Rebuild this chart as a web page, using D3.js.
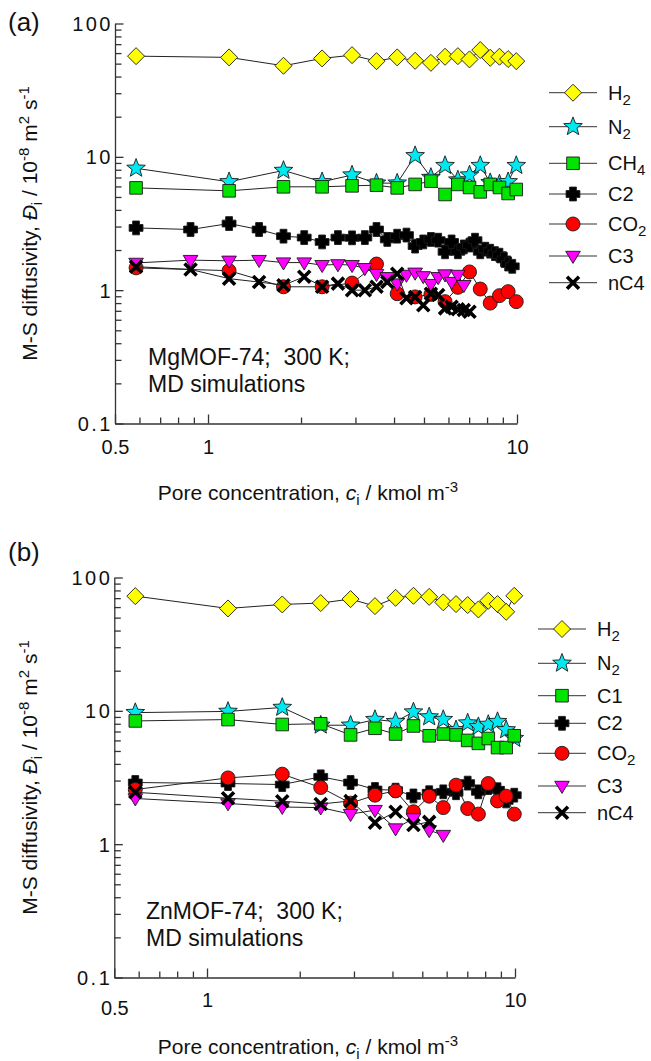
<!DOCTYPE html>
<html>
<head>
<meta charset="utf-8">
<title>M-S diffusivities in MgMOF-74 and ZnMOF-74</title>
<script src="https://d3js.org/d3.v7.min.js"></script>
<style>
  body { margin: 0; background: #fff; }
  svg text { font-family: "Liberation Sans", Arial, sans-serif; fill: #111; white-space: pre; }
</style>
</head>
<body>
<div id="chart"></div>
<script>
"use strict"

// pore concentrations, kmol m-3
const concA = [0.585, 1.17, 1.755, 2.34, 2.925, 3.51, 4.095, 4.68, 5.265, 5.85, 6.435, 7.02, 7.605, 8.19, 8.775, 9.36, 9.945];
const concFineA = [0.585, 0.878, 1.17, 1.463, 1.755, 2.048, 2.34, 2.633, 2.925, 3.218, 3.51, 3.803, 4.095, 4.388, 4.68, 4.973,
                   5.265, 5.558, 5.85, 6.143, 6.435, 6.728, 7.02, 7.313, 7.605, 7.898, 8.19, 8.483, 8.775, 9.068, 9.36, 9.653];
const concB = [0.585, 1.17, 1.755, 2.34, 2.925, 3.51, 4.095, 4.68, 5.265, 5.85, 6.435, 7.02, 7.605, 8.19, 8.775, 9.36, 9.945];

// (a) MgMOF-74, diffusivity in 1e-8 m2/s
const h2A  = [56.9, 55.7, 48.2, 54.7, 57.9, 52.2, 55.7, 52.5, 50.7, 56.3, 56.9, 53.8, 63.2, 55.3, 56.3, 54.1, 52.2];
const n2A  = [8.2, 6.5, 7.9, 6.5, 7.3, 6.35, 6.35, 10.2, 7.0, 8.6, 6.7, 7.3, 8.6, 6.4, 6.25, 6.5, 8.6];
const ch4A = [5.85, 5.56, 5.96, 5.96, 6.06, 6.13, 5.85, 6.21, 6.57, 5.22, 6.21, 5.89, 5.46, 6.21, 5.89, 5.31, 5.69];
const c2A  = [2.93, 2.85, 3.16, 2.85, 2.54, 2.48, 2.30, 2.48, 2.47, 2.48, 2.85, 2.40, 2.54, 2.59, 2.14, 2.30,
              2.40, 2.37, 1.94, 2.30, 1.94, 2.11, 2.18, 2.37, 1.94, 2.03, 1.96, 1.88, 1.83, 1.70, 1.57, 1.51];
const co2A = [1.47, 1.40, 1.06, 1.06, 1.13, 1.57, 0.94, 0.89, 0.93, 0.82, 1.05, 1.37, 1.02, 0.80, 0.91, 0.975, 0.82];
const c3A  = [1.60, 1.68, 1.66, 1.68, 1.61, 1.61, 1.54, 1.56, 1.54, 1.46, 1.32, 1.25, 1.12, 1.30, 1.35, 1.27,
              1.11, 1.25, 1.31, 1.15, 1.30, 1.09];
const nc4A = [1.50, 1.43, 1.22, 1.15, 1.09, 1.26, 1.06, 1.12, 1.00, 1.00, 1.06, 1.15, 1.33, 0.87, 0.89, 0.77,
              0.94, 0.92, 0.73, 0.75, 0.72, 0.71, 0.69];

// (b) ZnMOF-74
const h2B  = [72.5, 58.6, 62.8, 64.3, 68.9, 61.0, 70.4, 72.9, 71.6, 65.1, 63.2, 62.1, 57.6, 66.9, 63.2, 55.3, 72.9];
const n2B  = [9.7, 9.9, 10.6, 7.8, 7.8, 8.6, 8.3, 9.8, 9.0, 8.6, 7.2, 8.1, 7.6, 7.9, 8.3, 7.2, 6.2];
const c1B  = [8.4, 8.6, 7.9, 8.0, 6.6, 7.4, 6.7, 7.7, 6.5, 6.7, 6.6, 6.0, 5.7, 6.2, 5.3, 5.3, 6.5];
const c2B  = [2.9, 2.85, 2.8, 3.2, 2.9, 2.57, 2.54, 2.3, 2.43, 2.47, 2.43, 2.87, 2.47, 2.66, 2.56, 2.11, 2.33];
const co2B = [2.57, 3.14, 3.35, 2.66, 2.03, 2.33, 2.51, 1.75, 2.29, 1.88, 2.77, 1.85, 1.68, 2.85, 2.11, 2.29, 1.68];
const c3B  = [2.2, 2.02, 1.9, 1.88, 1.68, 1.8, 1.31, 1.56, 1.27, 1.17];
const nc4B = [2.45, 2.21, 2.1, 2.0, 2.11, 1.45, 1.75, 1.39, 1.47];

// legend labels: [text, subscript]
const labelsA = [["H", "2"], ["N", "2"], ["CH", "4"], ["C2", ""], ["CO", "2"], ["C3", ""], ["nC4", ""]];
const labelsB = [["H", "2"], ["N", "2"], ["C1", ""], ["C2", ""], ["CO", "2"], ["C3", ""], ["nC4", ""]];

// axis ticks
const xMinor = [0.6, 0.7, 0.8, 0.9, 2, 3, 4, 5, 6, 7, 8, 9];
const xMajor = [0.5, 1, 10];
const yMinor = [0.2, 0.3, 0.4, 0.5, 0.6, 0.7, 0.8, 0.9, 2, 3, 4, 5, 6, 7, 8, 9, 20, 30, 40, 50, 60, 70, 80, 90];
const yMajor = [0.1, 1, 10, 100];

// marker look, same order as the legend
const markers = ["diamond", "star", "square", "plus", "circle", "tri", "x"];
const fills = ["#ffff00", "#00e8f0", "#00e400", "#000000", "#ff0000", "#ff00ff", "none"];

function starPath(R, r) {
  let p = "";
  for (let i = 0; i < 10; i++) {
    const a = -Math.PI / 2 + i * Math.PI / 5, rr = i % 2 ? r : R;
    p += (i ? "L" : "M") + (rr * Math.cos(a)).toFixed(2) + "," + (rr * Math.sin(a)).toFixed(2);
  }
  return p + "Z";
}
const shapes = {
  diamond: "M0,-8.5L8.5,0L0,8.5L-8.5,0Z",
  star: starPath(9.8, 4.2),
  square: "M-6.3,-6.3h12.6v12.6h-12.6Z",
  plus: "M-3.4,-6.9H3.4V-3.4H6.9V3.4H3.4V6.9H-3.4V3.4H-6.9V-3.4H-3.4Z",
  circle: d3.symbol(d3.symbolCircle, Math.PI * 49)(),
  tri: "M-7.3,-4.7L7.3,-4.7L0,7.4Z",
  x: "M-6,-6L6,6M6,-6L-6,6"
};

function drawMarker(sel, i) {
  if (markers[i] === "x") {
    sel.attr("d", shapes.x).attr("fill", "none").attr("stroke", "#000").attr("stroke-width", 3.6);
  } else {
    sel.attr("d", shapes[markers[i]]).attr("fill", fills[i]).attr("stroke", "#1a1a1a").attr("stroke-width", 0.9);
  }
}

// text with sub/superscripts
function rich(textSel, parts, small) {
  let shift = 0;
  parts.forEach(([t, kind]) => {
    const ts = textSel.append("tspan").text(t);
    let target = 0;
    if (kind === "sub") { target = 5; ts.attr("font-size", small); }
    if (kind === "sup") { target = -8; ts.attr("font-size", small); }
    if (kind === "it") ts.attr("font-style", "italic");
    if (target !== shift) { ts.attr("dy", target - shift); shift = target; }
  });
}

const panels = [
  {
    tag: "(a)", tagY: 31, note: ["MgMOF-74;  300 K;", "MD simulations"], noteX: 148, noteY: 365,
    xRange: [115, 517], yRange: [423.5, 23.5], halfLabelY: 30.5, labelY: 30.5,
    legendX: 549, legendY: [92.7, 126.7, 163.3, 194, 224, 256, 282.7], labels: labelsA,
    series: [[concA, h2A], [concA, n2A], [concA, ch4A], [concFineA, c2A], [concA, co2A], [concFineA, c3A], [concFineA, nc4A]]
  },
  {
    tag: "(b)", tagY: 561, note: ["ZnMOF-74;  300 K;", "MD simulations"], noteX: 146, noteY: 919,
    xRange: [114.3, 515], yRange: [977.5, 577.5], halfLabelY: 37.5, labelY: 29,
    legendX: 538, legendY: [629, 663.3, 695.7, 723.3, 753.3, 786, 812.7], labels: labelsB,
    series: [[concB, h2B], [concB, n2B], [concB, c1B], [concB, c2B], [concB, co2B], [concB, c3B], [concB, nc4B]]
  }
];

const svg = d3.select("#chart").append("svg")
  .attr("width", 651).attr("height", 1061);

panels.forEach(p => {
  const x = d3.scaleLog().domain([0.5, 10]).range(p.xRange);
  const y = d3.scaleLog().domain([0.1, 100]).range(p.yRange);
  const g = svg.append("g");
  const bottom = p.yRange[0], left = p.xRange[0];

  // x axis
  const gx = g.append("g").attr("transform", `translate(0,${bottom})`);
  gx.call(d3.axisBottom(x).tickValues(xMinor).tickSize(-6).tickSizeOuter(0).tickFormat(""));
  const gx2 = g.append("g").attr("transform", `translate(0,${bottom})`);
  gx2.call(d3.axisBottom(x).tickValues(xMajor).tickSize(-9).tickSizeOuter(0).tickFormat(d3.format("~g")));
  gx2.select(".domain").remove();
  gx2.selectAll("text").attr("dy", 0).attr("font-size", 20).attr("fill", "#111")
    .attr("y", d => d === 0.5 ? p.halfLabelY : p.labelY);

  // y axis
  const gy = g.append("g").attr("transform", `translate(${left},0)`);
  gy.call(d3.axisLeft(y).tickValues(yMinor).tickSize(-6.5).tickSizeOuter(0).tickFormat(""));
  const gy2 = g.append("g").attr("transform", `translate(${left},0)`);
  gy2.call(d3.axisLeft(y).tickValues(yMajor).tickSize(-8.5).tickSizeOuter(0).tickFormat(d3.format("~g")));
  gy2.select(".domain").remove();
  gy2.selectAll("text").attr("x", -2).attr("dy", "0.35em").attr("font-size", 20)
    .attr("letter-spacing", 2.5).attr("fill", "#111");

  g.selectAll(".domain, .tick line").attr("stroke", "#333").attr("stroke-width", 1.3);
  g.selectAll(".tick text").attr("font-family", null);

  // axis titles
  const xt = g.append("text").attr("x", 308).attr("y", bottom + 76.5)
    .attr("text-anchor", "middle").attr("font-size", 21);
  rich(xt, [["Pore concentration, "], ["c", "it"], ["i", "sub"], [" / kmol m"], ["-3", "sup"], [""]], 15);

  const yMid = (p.yRange[0] + p.yRange[1]) / 2;
  const yt = g.append("text").attr("transform", `translate(37,${yMid}) rotate(-90)`)
    .attr("text-anchor", "middle").attr("font-size", 21);
  rich(yt, [["M-S diffusivity, "], ["Đ", "it"], ["i", "sub"], [" / 10"], ["-8", "sup"], [" m"], ["2", "sup"],
            [" s"], ["-1", "sup"]], 15);

  // panel tag and note
  g.append("text").attr("x", 8).attr("y", p.tagY).attr("font-size", 26).text(p.tag);
  p.note.forEach((t, i) => {
    g.append("text").attr("x", p.noteX).attr("y", p.noteY + i * 26.5).attr("font-size", 23).text(t);
  });

  // series: line then markers
  const line = d3.line().x(d => x(d[0])).y(d => y(d[1]));
  p.series.forEach(([cs, vs], i) => {
    const pts = vs.map((v, j) => [cs[j], v]);
    g.append("path").datum(pts).attr("d", line)
      .attr("fill", "none").attr("stroke", "#222").attr("stroke-width", 1);
    g.append("g").selectAll("path").data(pts).join("path")
      .attr("transform", d => `translate(${x(d[0])},${y(d[1])})`)
      .call(sel => drawMarker(sel, i));
  });

  // legend
  p.labels.forEach(([t, sub], i) => {
    const ly = p.legendY[i];
    g.append("line").attr("x1", p.legendX).attr("x2", p.legendX + 48)
      .attr("y1", ly).attr("y2", ly).attr("stroke", "#333").attr("stroke-width", 1);
    g.append("path").attr("transform", `translate(${p.legendX + 24},${ly})`).call(sel => drawMarker(sel, i));
    const lt = g.append("text").attr("x", p.legendX + 59).attr("y", ly + 7).attr("font-size", 20);
    rich(lt, sub ? [[t], [sub, "sub"]] : [[t]], 15);
  });
});
</script>
</body>
</html>
